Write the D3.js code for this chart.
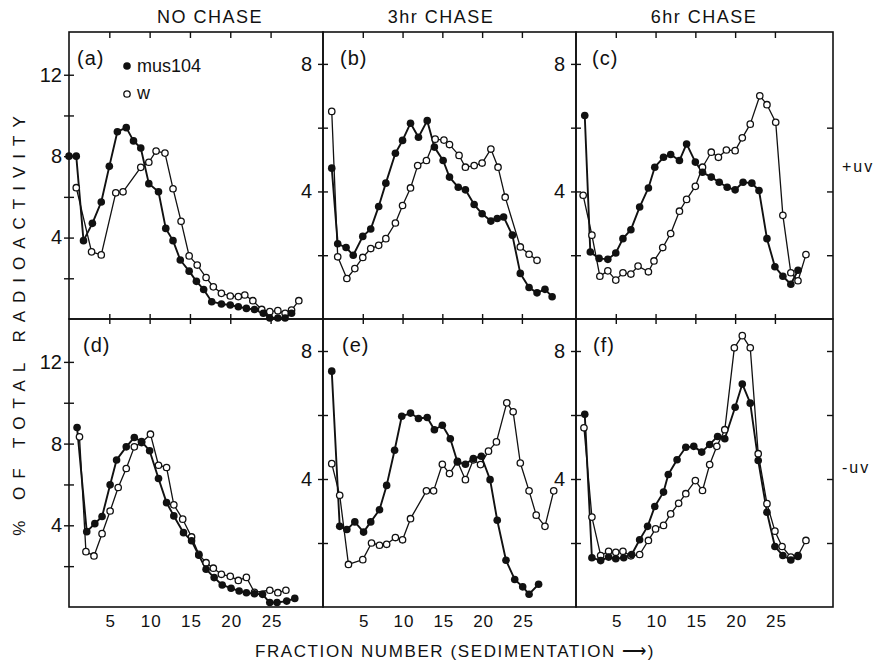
<!DOCTYPE html>
<html>
<head>
<meta charset="utf-8">
<script src="https://cdn.jsdelivr.net/npm/d3@7"></script>
<style>
    body { margin: 0; background: #fff; }
    svg text { font-family: "Liberation Sans", Arial, sans-serif; fill: #111; }
    .frame { fill: none; stroke: #111; stroke-width: 1.6; }
    .axis path.domain { display: none; }
    .axis line { stroke: #111; stroke-width: 1.4; }
    .axis text { font-size: 20px; }
    .xlab text { font-size: 17px; letter-spacing: 1px; }
    .line { fill: none; stroke: #111; stroke-linejoin: round; }
    .line.mus { stroke-width: 1.9; }
    .line.w { stroke-width: 1.3; }
    .dot.mus { fill: #111; }
    .dot.w { fill: #fff; stroke: #111; stroke-width: 1.3; }
</style>
</head>
<body>
<div id="chart"></div>
<script>
'use strict'
// tick labels and titles
var colTitles = ["NO CHASE", "3hr CHASE", "6hr CHASE"];
var rowTitles = ["+uv", "-uv"];
var xTickValues = [5, 10, 15, 20, 25];
var yTickValuesLeft = [2, 4, 6, 8, 10, 12];
var yTickValuesSmall = [2, 4, 6, 8];
var yLabelsLeft = [4, 8, 12];
var yLabelsSmall = [4, 8];
var legendNames = ["mus104", "w"];

// (a) no chase, +uv
var aMusX = [0.0, 0.9, 1.8, 2.9, 4.0, 5.0, 6.0, 7.1, 8.0, 8.9, 9.9, 11.1, 12.0, 12.9, 13.8, 14.9, 15.8, 16.7, 17.7, 18.9, 20.0, 21.0, 22.0, 23.0, 24.1, 24.9, 25.9, 26.8, 27.6];
var aMusY = [8.0, 8.0, 3.85, 4.7, 5.75, 7.5, 9.2, 9.4, 8.75, 8.4, 6.65, 6.25, 4.45, 3.85, 2.9, 2.35, 1.85, 1.45, 0.85, 0.74, 0.69, 0.6, 0.52, 0.47, 0.28, 0.05, 0.05, 0.05, 0.28];
var aWX = [0.9, 2.8, 4.0, 5.8, 6.7, 8.9, 9.9, 10.8, 11.9, 12.9, 13.9, 14.9, 15.9, 17.0, 17.9, 18.9, 20.0, 21.0, 21.8, 22.8, 23.9, 24.9, 25.9, 26.8, 27.6, 28.5];
var aWY = [6.45, 3.3, 3.15, 6.2, 6.25, 7.45, 7.7, 8.25, 8.15, 6.4, 4.8, 3.1, 2.65, 2.04, 1.58, 1.26, 1.13, 1.1, 1.18, 0.9, 0.47, 0.36, 0.41, 0.28, 0.44, 0.9];

// (b) 3hr chase, +uv
var bMusX = [1.1, 1.85, 2.9, 3.8, 5.0, 6.0, 7.0, 7.9, 9.1, 10.0, 11.0, 12.0, 13.1, 14.0, 15.1, 15.9, 17.0, 17.9, 19.0, 20.0, 21.1, 21.9, 22.7, 23.8, 24.8, 25.9, 26.9, 27.9, 28.8];
var bMusY = [4.73, 2.36, 2.24, 2.0, 2.59, 2.82, 3.53, 4.26, 5.2, 5.6, 6.14, 5.7, 6.22, 5.39, 4.97, 4.45, 4.13, 4.05, 3.59, 3.3, 3.07, 3.15, 3.2, 2.63, 1.43, 0.99, 0.82, 0.93, 0.7];
var bWX = [1.1, 1.85, 3.0, 4.0, 5.0, 6.0, 7.0, 7.9, 9.1, 10.0, 11.0, 11.9, 13.0, 14.1, 15.2, 15.9, 17.1, 17.9, 19.0, 20.0, 21.1, 22.0, 22.9, 24.8, 25.9, 26.9];
var bWY = [6.51, 1.95, 1.27, 1.58, 1.93, 2.21, 2.31, 2.52, 3.01, 3.56, 4.11, 4.81, 4.97, 5.64, 5.61, 5.47, 5.13, 4.76, 4.81, 4.89, 5.33, 4.76, 3.82, 2.26, 2.03, 1.84];

// (c) 6hr chase, +uv
var cMusX = [1.1, 1.8, 2.9, 4.0, 5.0, 5.9, 6.9, 8.0, 9.1, 9.9, 11.0, 11.9, 13.0, 13.9, 15.0, 15.9, 17.0, 18.0, 19.0, 20.0, 21.0, 22.1, 23.0, 24.0, 25.0, 26.0, 27.0, 27.9];
var cMusY = [6.38, 2.1, 1.9, 1.87, 2.07, 2.52, 2.8, 3.51, 4.11, 4.76, 5.07, 5.16, 4.97, 5.49, 4.92, 4.6, 4.45, 4.29, 4.13, 4.05, 4.29, 4.26, 4.03, 2.52, 1.64, 1.34, 1.09, 1.53];
var cWX = [0.9, 2.0, 3.0, 4.0, 5.0, 5.9, 6.9, 7.8, 9.1, 9.8, 10.9, 11.9, 13.0, 13.9, 15.0, 15.9, 17.0, 17.9, 18.9, 20.0, 20.9, 21.9, 23.1, 24.0, 25.1, 26.0, 27.0, 27.9, 28.9];
var cWY = [3.88, 2.63, 1.34, 1.51, 1.22, 1.45, 1.41, 1.66, 1.48, 1.82, 2.24, 2.68, 3.38, 3.75, 4.16, 4.76, 5.23, 5.07, 5.3, 5.28, 5.68, 6.11, 7.0, 6.72, 6.17, 3.25, 1.45, 1.2, 2.02];

// (d) no chase, -uv
var dMusX = [1.0, 2.2, 3.2, 4.1, 5.1, 5.9, 7.1, 8.1, 9.0, 10.0, 11.1, 12.1, 13.0, 14.2, 15.2, 16.1, 17.0, 18.0, 19.0, 20.1, 21.1, 22.0, 23.0, 24.0, 24.9, 25.8, 27.0, 28.0];
var dMusY = [8.79, 3.69, 4.08, 4.43, 5.98, 7.2, 7.84, 8.3, 8.1, 7.65, 6.29, 5.11, 4.46, 3.64, 3.24, 2.53, 1.85, 1.44, 1.08, 0.92, 0.78, 0.7, 0.65, 0.62, 0.22, 0.22, 0.29, 0.42];
var dWX = [1.3, 2.1, 3.1, 4.1, 5.1, 6.1, 7.1, 8.1, 9.0, 10.1, 11.1, 12.1, 13.0, 14.1, 15.2, 16.1, 17.0, 17.9, 18.9, 20.0, 21.0, 22.0, 23.0, 24.9, 25.9, 26.9];
var dWY = [8.33, 2.71, 2.5, 3.59, 4.7, 5.85, 6.78, 7.84, 8.05, 8.46, 6.94, 6.83, 5.0, 4.3, 3.43, 2.58, 2.17, 1.9, 1.6, 1.5, 1.3, 1.45, 0.72, 0.82, 0.7, 0.82];

// (e) 3hr chase, -uv
var eMusX = [1.1, 2.1, 3.0, 4.0, 5.1, 6.0, 7.1, 8.0, 9.0, 9.9, 11.0, 12.0, 13.1, 14.0, 15.0, 16.0, 16.9, 17.9, 18.9, 19.9, 21.0, 21.9, 23.0, 24.1, 25.1, 25.9, 27.1];
var eMusY = [7.37, 2.52, 2.42, 2.66, 2.34, 2.66, 3.04, 3.8, 4.9, 5.96, 6.06, 5.89, 5.92, 5.54, 5.68, 5.26, 4.53, 4.46, 4.64, 4.71, 3.98, 2.71, 1.46, 0.86, 0.63, 0.4, 0.71];
var eWX = [1.1, 2.1, 3.2, 5.0, 6.1, 7.1, 8.0, 9.1, 10.0, 11.0, 13.0, 13.9, 15.0, 15.9, 16.9, 17.9, 18.9, 19.8, 20.8, 21.8, 23.1, 23.9, 24.8, 25.9, 26.8, 27.9, 29.0];
var eWY = [4.48, 3.49, 1.33, 1.48, 2.0, 1.93, 1.96, 2.17, 2.1, 2.76, 3.63, 3.63, 4.46, 4.17, 4.55, 3.98, 4.6, 4.45, 4.87, 5.16, 6.38, 6.1, 4.5, 3.63, 2.87, 2.52, 3.63];

// (f) 6hr chase, -uv
var fMusX = [1.1, 2.0, 3.1, 4.1, 5.0, 6.0, 7.0, 8.0, 9.0, 9.9, 11.0, 11.6, 12.7, 13.8, 14.8, 15.8, 16.8, 17.8, 18.7, 20.0, 20.9, 21.9, 22.9, 24.0, 25.0, 26.0, 27.0, 27.9];
var fMusY = [6.02, 1.54, 1.45, 1.56, 1.51, 1.54, 1.64, 2.1, 2.52, 3.14, 3.59, 4.14, 4.6, 4.99, 5.02, 4.84, 5.08, 5.33, 5.26, 6.24, 6.97, 6.37, 4.58, 2.96, 1.89, 1.61, 1.47, 1.58];
var fWX = [1.0, 2.0, 3.1, 4.1, 5.0, 5.9, 6.9, 8.0, 9.1, 10.0, 11.0, 11.9, 12.9, 13.8, 15.0, 15.9, 16.8, 17.7, 18.7, 19.9, 20.9, 21.9, 22.9, 24.0, 25.0, 25.9, 27.0, 27.9, 28.9];
var fWY = [5.6, 2.81, 1.61, 1.74, 1.71, 1.74, 1.6, 1.64, 2.08, 2.44, 2.55, 2.91, 3.24, 3.54, 3.95, 3.64, 4.45, 5.02, 5.54, 8.1, 8.48, 8.1, 4.79, 3.23, 2.37, 1.89, 1.56, 1.61, 2.08];

var panels = [
    {label: "(a)", row: 0, col: 0, dx: 8,  musX: aMusX, musY: aMusY, wX: aWX, wY: aWY},
    {label: "(b)", row: 0, col: 1, dx: 17, musX: bMusX, musY: bMusY, wX: bWX, wY: bWY},
    {label: "(c)", row: 0, col: 2, dx: 16, musX: cMusX, musY: cMusY, wX: cWX, wY: cWY},
    {label: "(d)", row: 1, col: 0, dx: 14, musX: dMusX, musY: dMusY, wX: dWX, wY: dWY},
    {label: "(e)", row: 1, col: 1, dx: 19, musX: eMusX, musY: eMusY, wX: eWX, wY: eWY},
    {label: "(f)", row: 1, col: 2, dx: 17, musX: fMusX, musY: fMusY, wX: fWX, wY: fWY}
];

var _width = 878, _height = 665;
var colLeft = [69, 323, 576], colRight = [323, 576, 833];
var rowTop = [32, 319], rowBottom = [319, 607];
var xMax = [31.5, 31.8, 32.3];
var yMax = [14.1, 9.0, 9.0];

var _svg = d3.select("#chart").append("svg")
        .attr("width", _width)
        .attr("height", _height);

panels.forEach(renderPanel);
renderTitles();

function renderPanel(p) {
    var x = d3.scaleLinear().domain([0, xMax[p.col]]).range([colLeft[p.col], colRight[p.col]]);
    var y = d3.scaleLinear().domain([0, yMax[p.col]]).range([rowBottom[p.row], rowTop[p.row]]);
    var g = _svg.append("g").attr("class", "panel");

    g.append("rect")
            .attr("class", "frame")
            .attr("x", colLeft[p.col])
            .attr("y", rowTop[p.row])
            .attr("width", colRight[p.col] - colLeft[p.col])
            .attr("height", rowBottom[p.row] - rowTop[p.row]);

    var yTicks = p.col === 0 ? yTickValuesLeft : yTickValuesSmall;
    var yLabels = p.col === 0 ? yLabelsLeft : yLabelsSmall;

    // ticks crossing the left edge
    g.append("g")
            .attr("class", "axis")
            .attr("transform", "translate(" + (colLeft[p.col] + 5) + ",0)")
            .call(d3.axisLeft(y).tickValues(yTicks).tickSize(10).tickFormat(""));

    g.append("g")
            .attr("class", "axis")
            .attr("transform", "translate(" + colLeft[p.col] + ",0)")
            .call(d3.axisLeft(y).tickValues(yLabels).tickSize(0).tickPadding(p.col === 0 ? 7 : 11));

    if (p.col === 2) {
        g.append("g")
                .attr("class", "axis")
                .attr("transform", "translate(" + colRight[p.col] + ",0)")
                .call(d3.axisLeft(y).tickValues(p.row === 0 ? [2, 4, 6] : yTickValuesSmall)
                        .tickSize(6).tickFormat(""));
    }

    if (p.row === 0) {
        g.append("g")
                .attr("class", "axis")
                .attr("transform", "translate(0," + rowTop[0] + ")")
                .call(d3.axisBottom(x).tickValues(xTickValues).tickSize(6).tickFormat(""));
    } else {
        g.append("g")
                .attr("class", "axis")
                .attr("transform", "translate(0," + (rowTop[1] - 5) + ")")
                .call(d3.axisBottom(x).tickValues(xTickValues).tickSize(10).tickFormat(""));
        g.append("g")
                .attr("class", "axis xlab")
                .attr("transform", "translate(1," + rowBottom[1] + ")")
                .call(d3.axisBottom(x).tickValues(xTickValues).tickSize(0).tickPadding(8));
    }

    var line = d3.line()
            .x(function (d) { return x(d[0]); })
            .y(function (d) { return y(d[1]); });

    var musData = d3.zip(p.musX, p.musY);
    var wData = d3.zip(p.wX, p.wY);

    g.append("path").attr("class", "line w").attr("d", line(wData));
    g.append("path").attr("class", "line mus").attr("d", line(musData));

    g.selectAll("circle.w")
            .data(wData)
            .enter()
            .append("circle")
            .attr("class", "dot w")
            .attr("cx", function (d) { return x(d[0]); })
            .attr("cy", function (d) { return y(d[1]); })
            .attr("r", 3.2);

    g.selectAll("circle.mus")
            .data(musData)
            .enter()
            .append("circle")
            .attr("class", "dot mus")
            .attr("cx", function (d) { return x(d[0]); })
            .attr("cy", function (d) { return y(d[1]); })
            .attr("r", 3.8);

    g.append("text")
            .attr("x", colLeft[p.col] + p.dx)
            .attr("y", rowTop[p.row] + 33)
            .style("font-size", "20px")
            .style("letter-spacing", "1px")
            .text(p.label);

    if (p.label === "(a)") {
        // legend
        g.append("circle").attr("class", "dot mus").attr("cx", 127).attr("cy", 66).attr("r", 3.8);
        g.append("text").attr("x", 137).attr("y", 72).style("font-size", "18px").text(legendNames[0]);
        g.append("circle").attr("class", "dot w").attr("cx", 127).attr("cy", 94).attr("r", 3.2);
        g.append("text").attr("x", 137).attr("y", 99).style("font-size", "18px").text(legendNames[1]);
    }
}

function renderTitles() {
    var titleX = [210, 441, 704];
    colTitles.forEach(function (t, i) {
        _svg.append("text")
                .attr("x", titleX[i])
                .attr("y", 23)
                .attr("text-anchor", "middle")
                .style("font-size", "18px")
                .style("letter-spacing", "1.5px")
                .text(t);
    });

    var rowY = [172, 473];
    rowTitles.forEach(function (t, i) {
        _svg.append("text")
                .attr("x", 842)
                .attr("y", rowY[i])
                .style("font-size", "16px")
                .style("letter-spacing", "2px")
                .text(t);
    });

    _svg.append("text")
            .attr("transform", "translate(25,322) rotate(-90)")
            .attr("text-anchor", "middle")
            .style("font-size", "17px")
            .style("letter-spacing", "8px")
            .text("% OF TOTAL RADIOACTIVITY");

    _svg.append("text")
            .attr("x", 455)
            .attr("y", 657)
            .attr("text-anchor", "middle")
            .style("font-size", "17px")
            .style("letter-spacing", "1.6px")
            .text("FRACTION NUMBER (SEDIMENTATION \u27F6)");
}
</script>
</body>
</html>
